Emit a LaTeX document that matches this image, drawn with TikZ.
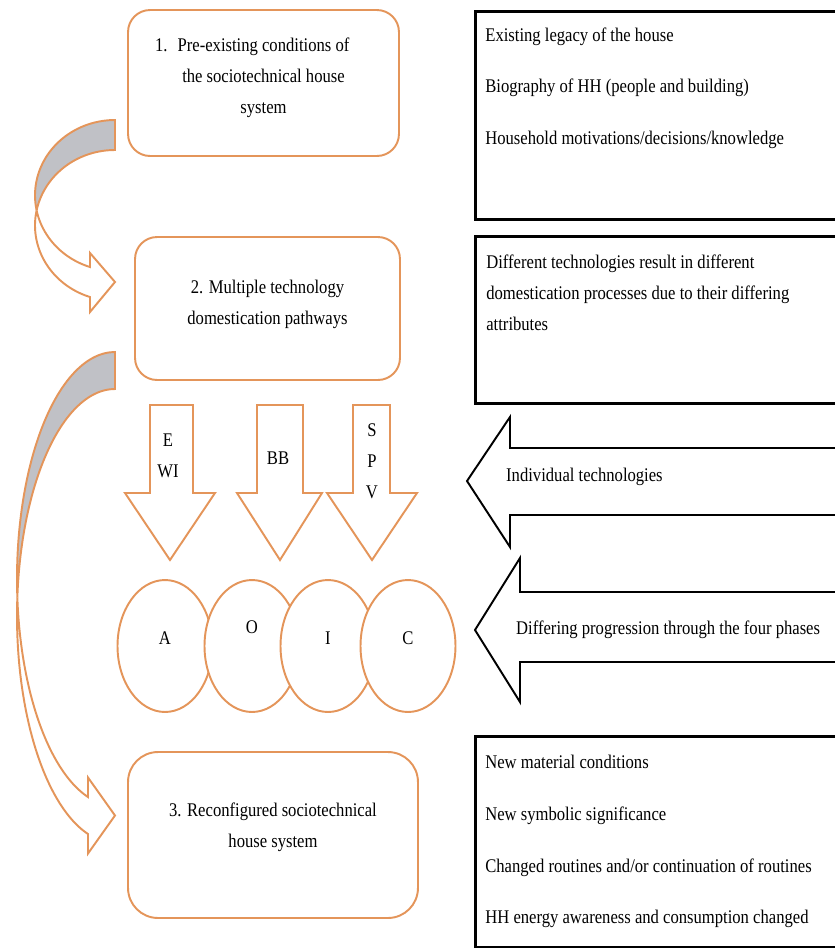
\documentclass[tikz,border=0pt]{standalone}
\usepackage{fontspec}
\setmainfont{Liberation Serif}[FakeStretch=0.86]
\usepackage{xcolor}
\usepackage{tikz}
\usetikzlibrary{shapes.geometric, positioning}
\definecolor{domorange}{HTML}{E4955A}
\definecolor{domgrey}{HTML}{C0C1C6}

\begin{document}
\begin{tikzpicture}[x=0.02cm, y=-0.02cm,
  every node/.style={font=\fontsize{11}{17.6}\selectfont},
  stage/.style={draw=domorange, line width=1.1pt, rounded corners=0.44cm, fill=white, align=center},
  note/.style={draw=black, line width=1.7pt, anchor=north west, minimum width=8cm},
  notetext/.style={anchor=north west, align=left, inner sep=0pt},
  phase/.style={ellipse, draw=domorange, line width=1.1pt, fill=white,
    minimum width=1.9cm, minimum height=2.64cm, inner sep=0pt},
  pathway/.style={draw=domorange, line width=1.1pt, fill=white},
  backband/.style={draw=domorange, line width=1.1pt, fill=domgrey},
  feed/.style={draw=black, line width=1.1pt, fill=white}]
  \useasboundingbox (0,0) rectangle (835,948);
  \clip (0,0) rectangle (835,948);

  % the three stages
  \node[stage, minimum width=5.42cm, minimum height=2.92cm] (pre) at (263.5,83)
    {\llap{1.\hspace{0.2cm}}Pre-existing conditions of\\the sociotechnical house\\system\\[-0.34cm]};
  \node[stage, minimum width=5.3cm, minimum height=2.86cm] (multi) at (267.5,308.5)
    {2. Multiple technology\\domestication pathways\\[-0.38cm]};
  \node[stage, rounded corners=0.6cm, minimum width=5.8cm, minimum height=3.32cm] (reconf) at (273,835)
    {3. Reconfigured sociotechnical\\house system\\[-0.22cm]};

  % curved arrow 1 -> 2
  \draw[backband] plot[smooth, domain=270:168.5, samples=25] ({115+80*cos(\x)},{195.4+75.4*sin(\x)})
    -- plot[smooth, domain=191.5:270, samples=25] ({115+80*cos(\x)},{225.4+75.4*sin(\x)}) -- cycle;
  \draw[pathway] plot[smooth, domain=168.5:108.2, samples=25] ({115+80*cos(\x)},{195.4+75.4*sin(\x)})
    -- (90,253) -- (115,282) -- (90,312)
    -- plot[smooth, domain=108.2:191.5, samples=25] ({115+80*cos(\x)},{225.4+75.4*sin(\x)}) -- cycle;

  % curved arrow 2 -> 3
  \draw[backband] plot[smooth, domain=270:175.3, samples=30] ({115+98*cos(\x)},{578.9+226.9*sin(\x)})
    -- plot[smooth, domain=184.7:270, samples=30] ({115+98*cos(\x)},{615.9+226.9*sin(\x)}) -- cycle;
  \draw[pathway] plot[smooth, domain=175.3:106, samples=30] ({115+98*cos(\x)},{578.9+226.9*sin(\x)})
    -- (88,777.5) -- (115,815.5) -- (88,853.5)
    -- plot[smooth, domain=106:184.7, samples=30] ({115+98*cos(\x)},{615.9+226.9*sin(\x)}) -- cycle;

  % technology arrows
  \foreach \sl/\sr/\hl/\hr/\tx in {150/193/125/215/170, 257/303/237/322/280, 353/390/327/417/372}
    \draw[pathway] (\sl,405) -- (\sr,405) -- (\sr,493) -- (\hr,493) -- (\tx,560) -- (\hl,493) -- (\sl,493) -- cycle;
  \node[align=center] (ewi) at (168,456) {E\\WI};
  \node (bb) at (278,458) {BB};
  \node[align=center] (spv) at (372,461) {S\\P\\V};

  % four phases
  \node[phase, label={[yshift=0.16cm]center:A}] (appr) at (165,646) {};
  \node[phase, label={[yshift=0.38cm]center:O}] (objc) at (252,646) {};
  \node[phase, label={[yshift=0.16cm]center:I}] (incp) at (328,646) {};
  \node[phase, label={[yshift=0.16cm]center:C}] (conv) at (408,646) {};

  % notes on the right
  \node[note, minimum height=4.16cm] (legacy) at (474,10) {};
  \node[notetext, below right=0.35cm and 0.22cm of legacy.north west] (legacytxt)
    {Existing legacy of the house\\[11.7pt]Biography of HH (people and building)\\[11.7pt]Household motivations/decisions/knowledge};
  \node[note, minimum height=3.34cm] (attrib) at (474,235) {};
  \node[notetext, below right=0.4cm and 0.24cm of attrib.north west] (attribtxt)
    {Different technologies result in different\\domestication processes due to their differing\\attributes};
  \node[note, minimum height=4.22cm] (outcome) at (474,735) {};
  \node[notetext, below right=0.4cm and 0.22cm of outcome.north west] (outcometxt)
    {New material conditions\\[11.8pt]New symbolic significance\\[11.8pt]Changed routines and/or continuation of routines\\[11.8pt]HH energy awareness and consumption changed};

  % pointers
  \draw[feed] (860,448) -- (510,448) -- (510,417) -- (467,481) -- (510,547) -- (510,515) -- (860,515) -- cycle;
  \node[anchor=west] (indiv) at (500,477) {Individual technologies};
  \draw[feed] (860,592) -- (520,592) -- (520,558) -- (475,630) -- (520,702) -- (520,662) -- (860,662) -- cycle;
  \node[anchor=west] (differ) at (510,630) {Differing progression through the four phases};
\end{tikzpicture}
\end{document}
